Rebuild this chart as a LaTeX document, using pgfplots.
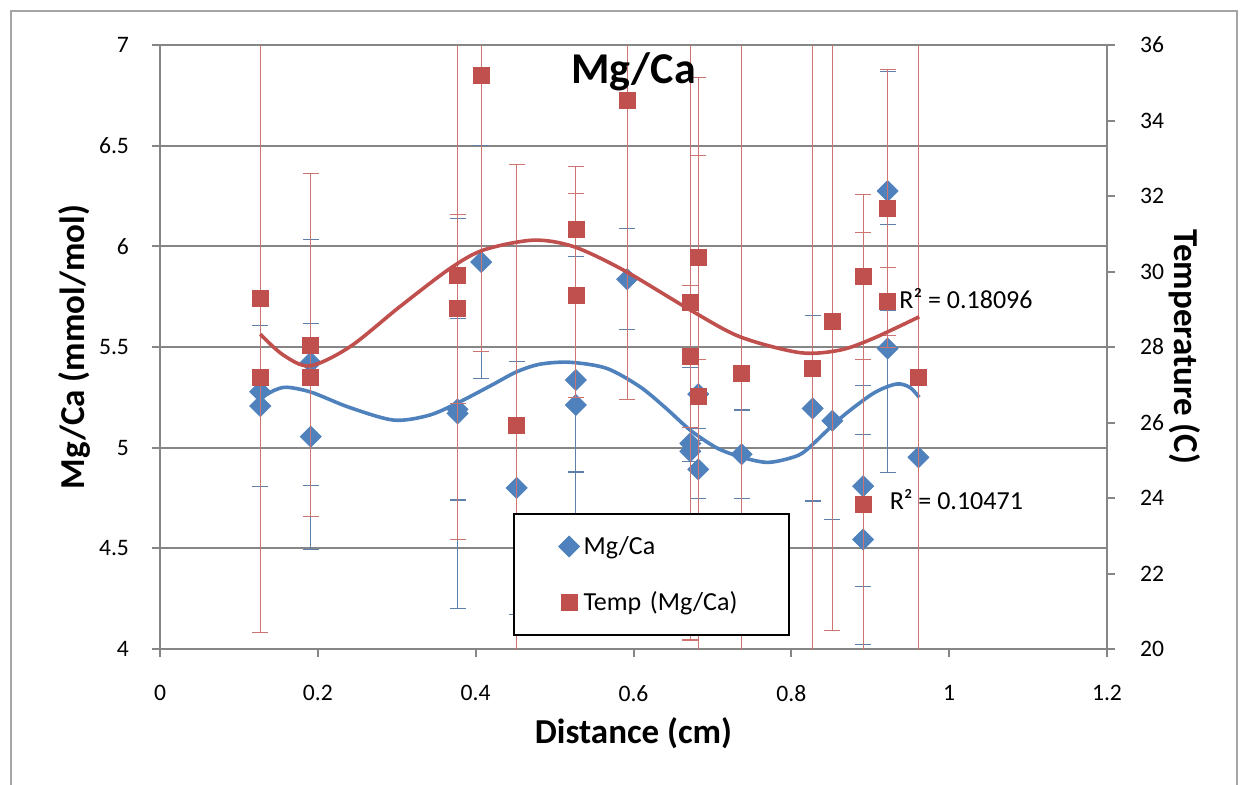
\documentclass[border=0pt]{standalone}
\usepackage{fontspec}
\setmainfont{Carlito}
\usepackage{pgfplots}
\pgfplotsset{compat=1.18}
\usepackage{pgfplotstable}
\definecolor{mgblue}{HTML}{4F81BD}
\definecolor{tred}{HTML}{C0504D}
\definecolor{axgray}{HTML}{868686}

\pgfplotstableread{
x y e
0.127 5.278 0
0.127 5.207 0.40
0.191 5.423 0.61
0.191 5.055 0.56
0.377 5.190 0.45
0.377 5.170 0.97
0.407 5.922 0.58
0.452 4.800 0.63
0.527 5.336 0.457
0.527 5.212 0.736
0.592 5.837 0.25
0.672 5.021 0.376
0.672 4.982 0.05
0.682 5.266 0.17
0.682 4.892 0.144
0.737 4.967 0.22
0.827 5.195 0.46
0.852 5.134 0.49
0.891 4.809 0.50
0.891 4.544 0.52
0.922 6.275 0.595
0.922 5.493 0.617
0.961 4.952 0
}\mgdata

\pgfplotstableread{
x y e
0.127 29.28 8.84
0.127 27.20 0
0.191 28.05 4.54
0.191 27.20 0
0.377 29.91 7.0
0.377 29.01 2.51
0.407 35.19 7.3
0.452 25.93 6.9
0.527 31.12 1.67
0.527 29.37 2.70
0.592 34.52 7.92
0.672 29.17 8.93
0.672 27.74 1.88
0.682 30.37 2.71
0.682 26.70 8.43
0.737 27.30 9.5
0.827 27.44 9.5
0.852 28.67 8.17
0.891 29.86 2.19
0.891 23.84 7.2
0.922 31.67 3.69
0.922 29.20 0.9
0.961 27.19 9.5
}\tdata

\pgfplotstableread{
x y
0.127 5.245
0.145 5.285
0.161 5.300
0.192 5.275
0.240 5.200
0.296 5.137
0.340 5.160
0.376 5.220
0.420 5.310
0.452 5.377
0.482 5.415
0.520 5.424
0.566 5.394
0.608 5.303
0.640 5.200
0.672 5.087
0.705 5.000
0.735 4.955
0.769 4.927
0.800 4.950
0.819 4.988
0.862 5.146
0.904 5.270
0.933 5.316
0.950 5.300
0.962 5.250
}\mgtrend

\pgfplotstableread{
x y
0.127 28.34
0.156 27.79
0.190 27.50
0.241 28.01
0.304 29.07
0.3675 30.08
0.410 30.57
0.473 30.83
0.524 30.66
0.587 30.04
0.672 28.98
0.735 28.27
0.811 27.85
0.862 27.92
0.904 28.23
0.962 28.80
}\ttrend

\pgfplotsset{
  common/.style={
    scale only axis, width=473.5pt, height=302pt,
    xmin=0, xmax=1.2,
    xtick={0,0.2,0.4,0.6,0.8,1,1.2},
    xticklabels={0,0.2,0.4,0.6,0.8,1,1.2},
    /pgf/number format/assume math mode=true,
    tick label style={font=\fontsize{11.8}{14}\selectfont, black},
    axis line style={axgray, line width=1pt, -},
    tick style={axgray, line width=1pt},
    tick align=outside,
    major tick length=4pt,
    clip=true,
  },
}

\begin{document}
\begin{tikzpicture}
\useasboundingbox (-80pt,-67.5pt) rectangle (540pt,324.5pt);
\draw[color=black!35, line width=0.6pt] (-74.5pt,-70pt) -- (-74.5pt,319pt) -- (538.5pt,319pt) -- (538.5pt,-70pt);

\begin{axis}[common,
  ymin=4, ymax=7,
  axis x line*=bottom, axis y line*=left,
  ytick={4,4.5,5,5.5,6,6.5,7},
  yticklabels={4,4.5,5,5.5,6,6.5,7},
  ymajorgrids,
  grid style={axgray, line width=1pt},
  xticklabel style={yshift=-10.5pt},
  yticklabel style={xshift=-8pt},
  xlabel={Distance (cm)},
  ylabel={Mg/Ca (mmol/mol)},
  every axis x label/.style={at={(axis description cs:0.5,-0.139)}, anchor=center, font=\bfseries\fontsize{17.5}{21}\selectfont},
  every axis y label/.style={at={(axis description cs:-0.0898,0.5)}, rotate=90, anchor=center, font=\bfseries\fontsize{17.5}{21}\selectfont},
]
\addplot[only marks, mark=square*, mark size=3.7pt,
  mark options={rotate=45, fill=mgblue, draw=mgblue},
  error bars/.cd, y dir=both, y explicit,
  error bar style={line width=0.55pt, color=mgblue!70!gray},
  error mark options={rotate=90, mark size=4pt, line width=0.55pt, color=mgblue!70!gray}]
  table[x=x, y=y, y error=e] {\mgdata};
\addplot[smooth, mgblue, line width=1.8pt, no marks] table[x=x, y=y] {\mgtrend};
\end{axis}

\begin{axis}[common,
  ymin=20, ymax=36,
  axis x line=none, axis y line*=right,
  ytick={20,22,24,26,28,30,32,34,36},
  yticklabels={20,22,24,26,28,30,32,34,36},
  yticklabel style={xshift=9pt},
  ylabel={Temperature (C)},
  every axis y label/.style={at={(axis description cs:1.0824,0.5)}, rotate=-90, anchor=center, font=\bfseries\fontsize{17.5}{21}\selectfont},
  legend image code/.code={\path[draw=none, fill=none] (0pt,-3pt) rectangle (12pt,3pt); \draw[#1, only marks] plot coordinates {(7pt,0pt)};},
  legend cell align=left,
  legend style={at={(rel axis cs:0.3728,0.2252)}, anchor=north west,
    draw=black, line width=1pt, fill=white,
    inner xsep=20.5pt, inner ysep=9pt, row sep=13pt,
    font=\fontsize{13}{15.6}\selectfont,
    nodes={text width=80pt, inner xsep=2pt, align=left, draw=none}},
]
\addlegendimage{mark=square*, mark size=3.7pt, mark options={rotate=45, fill=mgblue, draw=mgblue, line width=0.4pt}}
\addlegendentry{Mg/Ca}
\addlegendimage{mark=square*, mark size=4pt, mark options={fill=tred, draw=tred, line width=0.4pt}}
\addlegendentry{Temp (Mg/Ca)}
\addplot[forget plot, only marks, mark=square*, mark size=4pt,
  mark options={fill=tred, draw=tred},
  error bars/.cd, y dir=both, y explicit,
  error bar style={line width=0.55pt, color=tred!80!white},
  error mark options={rotate=90, mark size=4pt, line width=0.55pt, color=tred!80!white}]
  table[x=x, y=y, y error=e] {\tdata};
\addplot[forget plot, smooth, tred, line width=1.8pt, no marks] table[x=x, y=y] {\ttrend};
\node[anchor=west, inner sep=0pt, font=\fontsize{13}{15.6}\selectfont] at (axis cs:0.9364,29.27) {R² = 0.18096};
\node[anchor=west, inner sep=0pt, font=\fontsize{13}{15.6}\selectfont] at (axis cs:0.9242,23.97) {R² = 0.10471};
\node[anchor=base, inner sep=0pt, font=\bfseries\fontsize{22}{26}\selectfont] at (rel axis cs:0.5,0.937) {Mg/Ca};
\end{axis}
\end{tikzpicture}
\end{document}
